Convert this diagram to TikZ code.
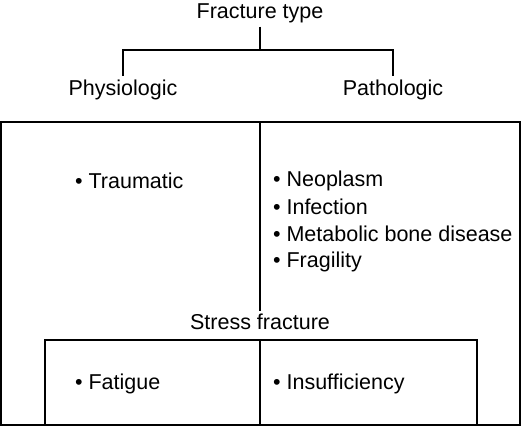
\documentclass[tikz,border=0pt]{standalone}
\usepackage{fontspec}
\setmainfont{Liberation Sans}
\usepackage{tikz}
\usetikzlibrary{positioning, calc}

\begin{document}
\begin{tikzpicture}[x=1pt, y=-1pt, line width=2.2pt, font=\fontsize{21.5}{25}\selectfont,
    every node/.style={inner sep=3pt},
    item/.style={anchor=west, inner sep=0pt}]
    \useasboundingbox ({0},{0}) rectangle ({521},{427});

    % top of the tree
    \node (type) at ({260},{13}) {Fracture type};
    \node[anchor=north] (phys) at ({123},{76}) {Physiologic};
    \node[anchor=north] (path) at ({393},{76}) {Pathologic};
    \coordinate (fork) at ({260},{50});
    \draw (type) -- (fork);
    \draw (phys.north) |- (fork) -| (path.north);

    % outer frame
    \coordinate (outerNW) at ({1},{122});
    \coordinate (outerSE) at ({520},{425});
    \draw (outerNW) rectangle (outerSE);

    \node[item] (traumatic) at ({74},{181}) {\textbullet\ Traumatic};
    \node[item] (neoplasm) at ({272},{181}) {\textbullet\ Neoplasm};
    \node[item] (infection) at ({272},{207}) {\textbullet\ Infection};
    \node[item] (metabolic) at ({272},{234}) {\textbullet\ Metabolic bone disease};
    \node[item] (fragility) at ({272},{262}) {\textbullet\ Fragility};

    % stress fracture box
    \coordinate (innerNW) at ({45},{340});
    \coordinate (innerSE) at ({477},{425});
    \draw (innerNW) rectangle (innerSE);
    \node[fill=white, inner sep=2pt] (stress) at ({260},{322}) {Stress fracture};
    \draw (stress.north |- outerNW) -- (stress.north);
    \draw (stress.south |- innerNW) -- (stress.south |- innerSE);

    \node[item] (fatigue) at ({74},{384}) {\textbullet\ Fatigue};
    \node[item] (insuff) at ({272},{384}) {\textbullet\ Insufficiency};
\end{tikzpicture}
\end{document}
